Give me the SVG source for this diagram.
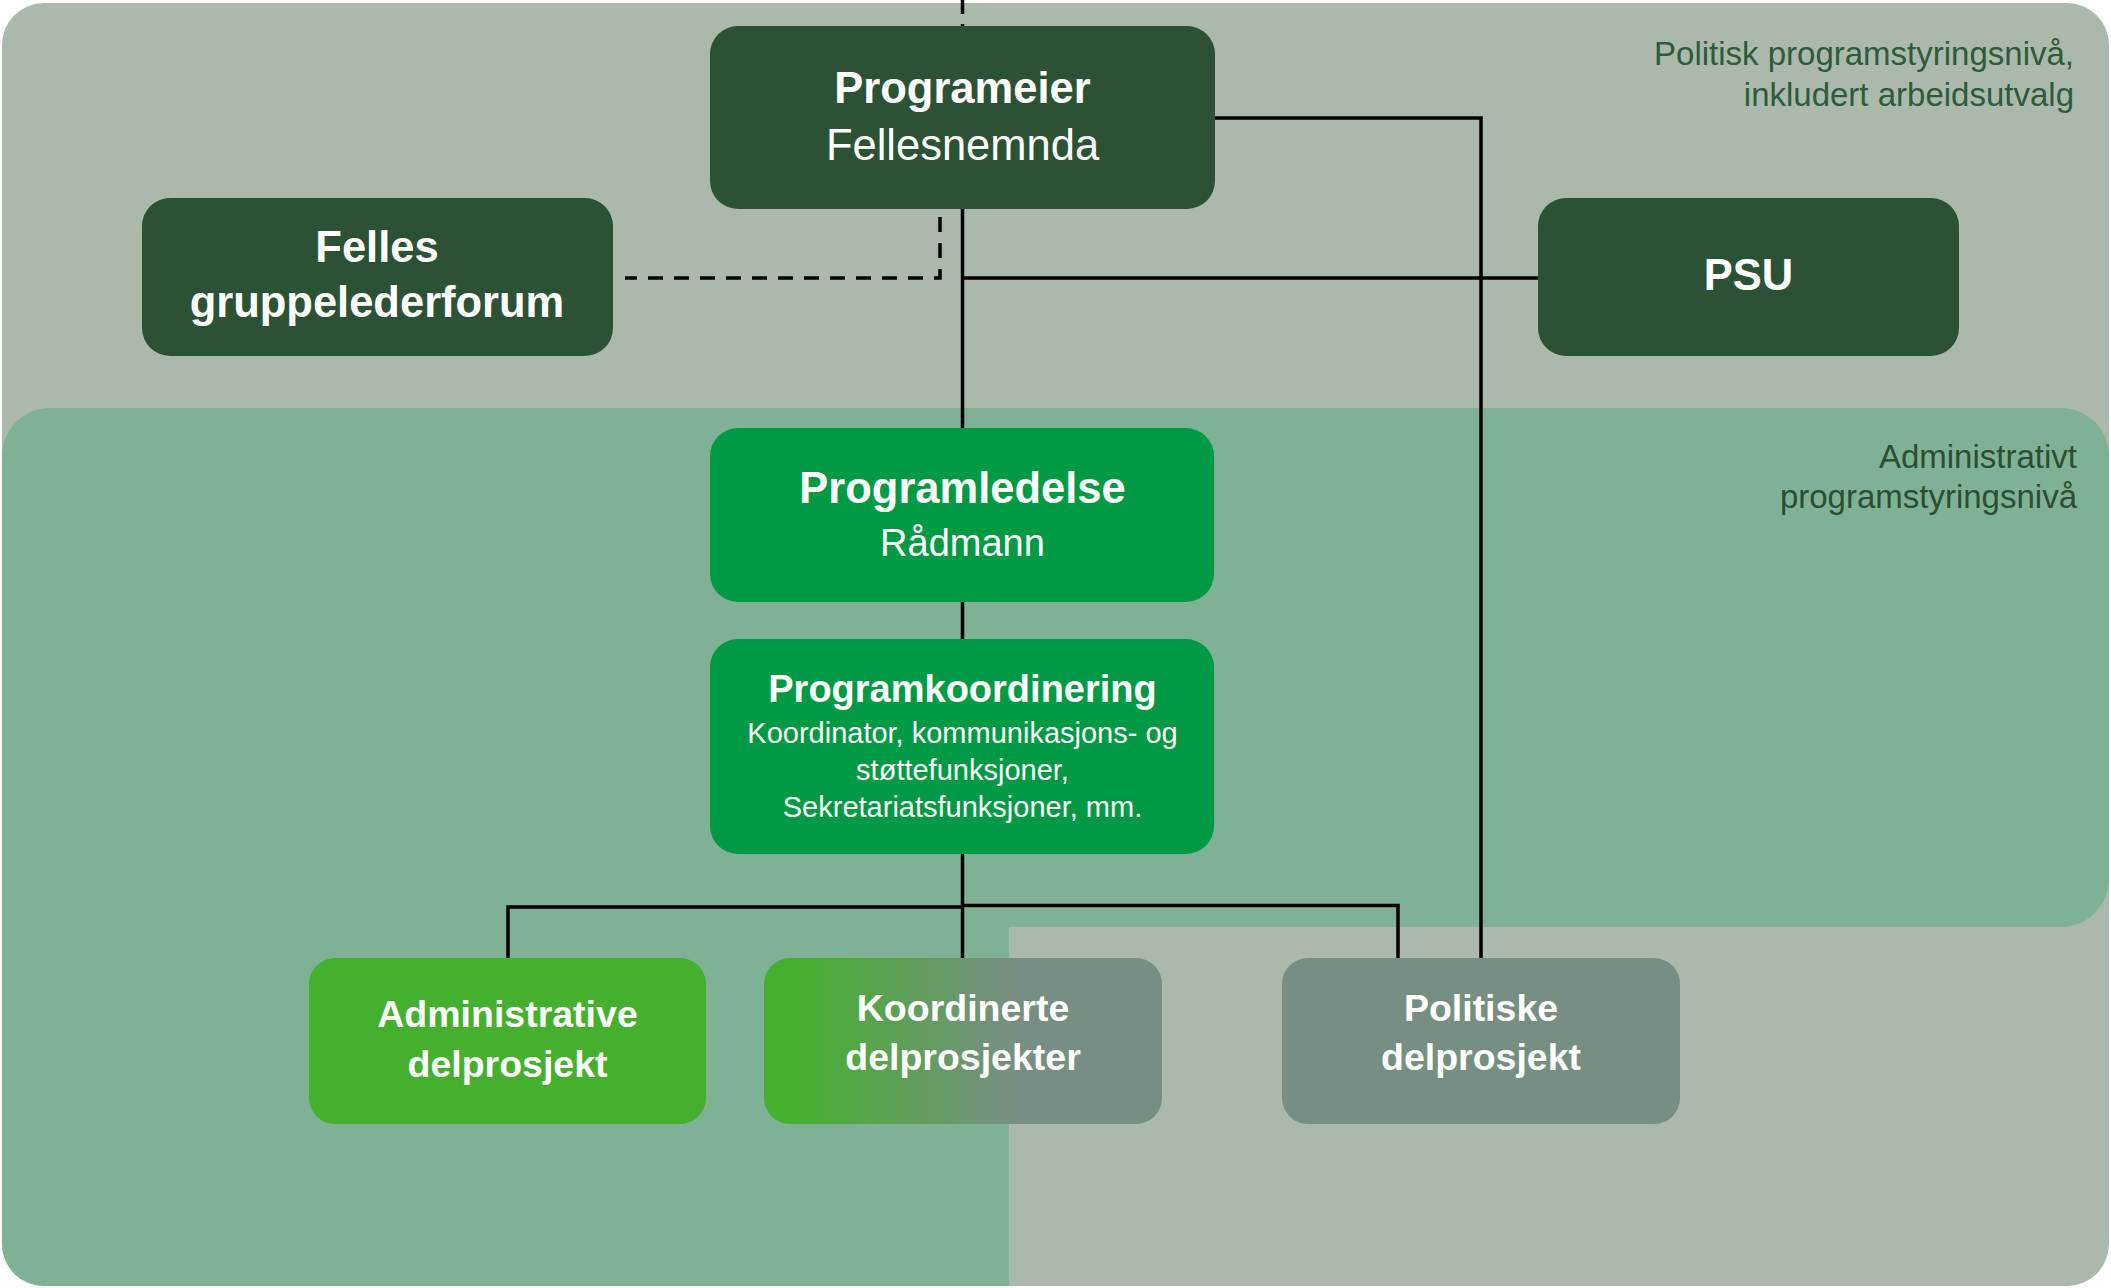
<svg xmlns="http://www.w3.org/2000/svg" width="2111" height="1288" viewBox="0 0 2111 1288">
  <defs>
    <clipPath id="outerClip">
      <rect x="2" y="3" width="2107" height="1283" rx="42" ry="42"/>
    </clipPath>
    <linearGradient id="koordGrad" x1="0" y1="0" x2="1" y2="0">
      <stop offset="0.08" stop-color="#45B02E"/>
      <stop offset="0.62" stop-color="#778F82"/>
    </linearGradient>
    <style>
      .t { font-family: "Liberation Sans", Arial, sans-serif; fill: #FFFFFF; text-anchor: middle; }
      .b { font-weight: bold; }
      .lbl { font-family: "Liberation Sans", Arial, sans-serif; font-size: 33px; text-anchor: end; }
      .dark { fill: #2B5234; }
      .bright { fill: #009A44; }
      .light { fill: #45B02E; }
      .grey { fill: #778F82; }
      .con { fill: none; stroke: #000000; stroke-width: 3.5; }
      .dash { stroke-dasharray: 15 11; }
    </style>
  </defs>

  <rect width="2111" height="1288" fill="#FFFFFF"/>

  <g id="region-politisk">
    <rect x="2" y="3" width="2107" height="1283" rx="42" ry="42" fill="#AAB9AC"/>
    <text class="lbl" x="2074" y="65" fill="#2E5B3A">Politisk programstyringsnivå,</text>
    <text class="lbl" x="2074" y="106" fill="#2E5B3A">inkludert arbeidsutvalg</text>
  </g>

  <g id="region-administrativt">
    <path clip-path="url(#outerClip)" d="M2,456 A48,48 0 0 1 50,408 H2061 A48,48 0 0 1 2109,456 V879 A48,48 0 0 1 2061,927 H1009 V1288 H2 Z" fill="#7FB294"/>
    <text class="lbl" x="2077" y="468" fill="#2D4D35">Administrativt</text>
    <text class="lbl" x="2077" y="508" fill="#2D4D35">programstyringsnivå</text>
  </g>

  <g id="connectors">
    <path class="con" d="M962.5,0 V26" stroke-dasharray="14 10 3 30"/>
    <path class="con" d="M962.5,209 V428"/>
    <path class="con" d="M962.5,278 H1538"/>
    <path class="con dash" d="M940,217 V278 H625"/>
    <path class="con" d="M1215,118 H1481 V958"/>
    <path class="con" d="M962.5,602 V639"/>
    <path class="con" d="M962.5,854 V958"/>
    <path class="con" d="M508,958 V907 H962.5"/>
    <path class="con" d="M962.5,905.5 H1398 V958"/>
  </g>

  <g id="node-programeier">
    <rect class="dark" x="710" y="26" width="505" height="183" rx="28" ry="28"/>
    <text class="t b" x="962.5" y="103" font-size="43.5">Programeier</text>
    <text class="t" x="962.5" y="160" font-size="43.5">Fellesnemnda</text>
  </g>

  <g id="node-felles">
    <rect class="dark" x="142" y="198" width="471" height="158" rx="28" ry="28"/>
    <text class="t b" x="377" y="262" font-size="43.5">Felles</text>
    <text class="t b" x="377" y="317" font-size="43.5">gruppelederforum</text>
  </g>

  <g id="node-psu">
    <rect class="dark" x="1538" y="198" width="421" height="158" rx="28" ry="28"/>
    <text class="t b" x="1748.5" y="290" font-size="43.5">PSU</text>
  </g>

  <g id="node-programledelse">
    <rect class="bright" x="710" y="428" width="504" height="174" rx="28" ry="28"/>
    <text class="t b" x="962.5" y="503" font-size="43.5">Programledelse</text>
    <text class="t" x="962.5" y="556" font-size="38">Rådmann</text>
  </g>

  <g id="node-programkoordinering">
    <rect class="bright" x="710" y="639" width="504" height="215" rx="28" ry="28"/>
    <text class="t b" x="962.5" y="702" font-size="38">Programkoordinering</text>
    <text class="t" x="962.5" y="743" font-size="29">Koordinator, kommunikasjons- og</text>
    <text class="t" x="962.5" y="780" font-size="29">støttefunksjoner,</text>
    <text class="t" x="962.5" y="817" font-size="29">Sekretariatsfunksjoner, mm.</text>
  </g>

  <g id="node-administrative">
    <rect class="light" x="309" y="958" width="397" height="166" rx="26" ry="26"/>
    <text class="t b" x="507.5" y="1027" font-size="37.5">Administrative</text>
    <text class="t b" x="507.5" y="1077" font-size="37.5">delprosjekt</text>
  </g>

  <g id="node-koordinerte">
    <rect x="764" y="958" width="398" height="166" rx="26" ry="26" fill="url(#koordGrad)"/>
    <text class="t b" x="963" y="1021" font-size="37.5">Koordinerte</text>
    <text class="t b" x="963" y="1070" font-size="37.5">delprosjekter</text>
  </g>

  <g id="node-politiske">
    <rect class="grey" x="1282" y="958" width="398" height="166" rx="26" ry="26"/>
    <text class="t b" x="1481" y="1021" font-size="37.5">Politiske</text>
    <text class="t b" x="1481" y="1070" font-size="37.5">delprosjekt</text>
  </g>
</svg>
